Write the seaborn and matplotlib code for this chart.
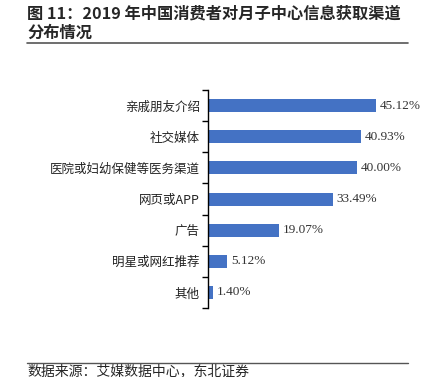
import numpy as np
import pandas as pd
import matplotlib
matplotlib.use("Agg")
import matplotlib.pyplot as plt
import seaborn as sns
from matplotlib.lines import Line2D

channels = ["亲戚朋友介绍", "社交媒体", "医院或妇幼保健等医务渠道", "网页或APP",
            "广告", "明星或网红推荐", "其他"]
shares = [45.12, 40.93, 40.00, 33.49, 19.07, 5.12, 1.40]

df = pd.DataFrame({"channel": channels, "share": shares})

sns.set_theme(style="white")
plt.rcParams['font.family'] = ['Noto Sans CJK SC', 'DejaVu Sans']

fig = plt.figure(figsize=(4.29, 3.77), dpi=100)
ax = fig.add_axes([0.485, 0.183, 0.435, 0.578])

sns.barplot(data=df, x="share", y="channel", color="#4472C4", width=0.42,
            saturation=1, linewidth=0, ax=ax)

ax.set_xlim(0, 50)
ax.set_ylim(6.5, -0.5)
ax.set_xlabel("")
ax.set_ylabel("")
ax.set_xticks([])
for s in ["top", "right", "bottom"]:
    ax.spines[s].set_visible(False)
ax.spines["left"].set_color("black")
ax.spines["left"].set_linewidth(1.0)

# ticks between categories, labels at centres
ax.set_yticks(np.arange(-0.5, 7, 1), minor=True)
ax.tick_params(axis="y", which="minor", length=4, width=1, color="black", direction="out", left=True)
ax.tick_params(axis="y", which="major", length=0, labelsize=9, pad=6, labelcolor="#222222")

for i, v in enumerate(shares):
    ax.text(v + 1.0, i, f"{v:.2f}%", va="center", ha="left", fontsize=9.5,
            family=["Liberation Serif"], color="#333333")

fig.text(0.063, 0.965, "图 11：2019 年中国消费者对月子中心信息获取渠道", fontsize=11.7,
         fontweight="bold", va="center", ha="left")
fig.text(0.063, 0.912, "分布情况", fontsize=11.7, fontweight="bold", va="center", ha="left")
fig.add_artist(Line2D([0.063, 0.951], [0.886, 0.886], color="#555555", lw=1.2))
fig.add_artist(Line2D([0.063, 0.951], [0.037, 0.037], color="#555555", lw=1.0))
fig.text(0.063, 0.016, "数据来源：艾媒数据中心，东北证券", fontsize=10, va="center", ha="left")

fig.savefig("out.png", dpi=100)
